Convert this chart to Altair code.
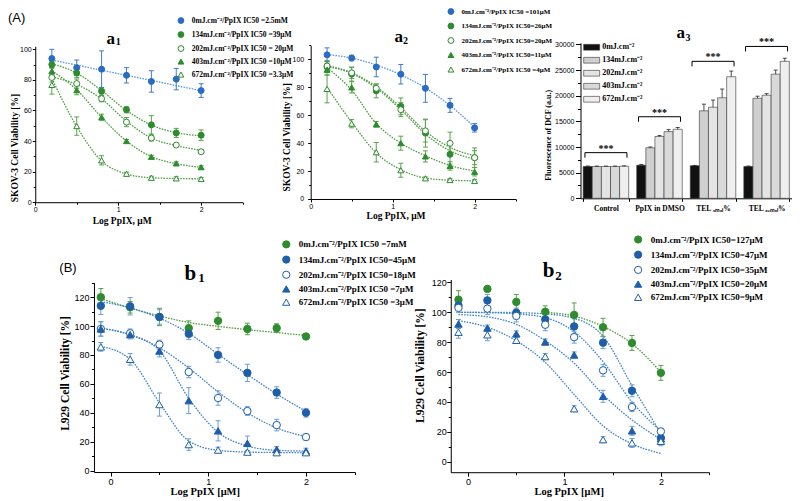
import altair as alt
import pandas as pd

SERIF = "Liberation Serif"
SANS = "Liberation Sans"

# ---------------- data ----------------
X_A = [0.2, 0.5, 0.8, 1.1, 1.4, 1.7, 2.0]
X_B = [-0.1, 0.2, 0.5, 0.8, 1.1, 1.4, 1.7, 2.0]

# panel a1 (SKOV-3, treatment 1)
A1_LABELS = ["0mJ.cm⁻²/PpIX IC50 =2.5mM", "134mJ.cm⁻²/PpIX IC50 =39μM",
             "202mJ.cm⁻²/PpIX IC50 = 20μM", "403mJ.cm⁻²/PpIX IC50 =10μM",
             "672mJ.cm⁻²/PpIX IC50 =3.3μM"]
A1_MEAN = [[94, 88, 87, 83, 79, 80.5, 73],
           [90, 84.5, 72.6, 60.5, 50.6, 45.3, 43.8],
           [81.6, 77.6, 67.7, 52.4, 42, 37.4, 33],
           [85.7, 73.3, 55.6, 40, 29.7, 25.4, 22.9],
           [76.7, 49.8, 27.4, 18.6, 16, 15.6, 15.2]]
A1_ERR = [[6, 5, 12, 5, 7, 7, 4.5],
          [2, 3, 2.5, 2, 6, 3, 3.5],
          [3, 3, 2, 3, 2, 1, 1],
          [2, 3, 2, 1, 1, 1, 1],
          [6, 6, 3, 1, 1, 1, 1]]
A1_FIT = [[93, 89.7, 86.3, 83, 79.7, 76.3, 73],
          [90.5, 84.5, 73, 60, 50.5, 45.5, 43.5],
          [82, 77, 67.5, 53, 42, 37, 34],
          [86, 73.5, 55.5, 40, 29.8, 25.2, 22.8],
          [81, 49.5, 27, 18.5, 16, 15.5, 15.3]]

# panel a2 (SKOV-3, treatment 2)
A2_LABELS = ["0mJ.cm⁻²/PpIX IC50 =101μM", "134mJ.cm⁻²/PpIX IC50=26μM",
             "202mJ.cm⁻²/PpIX IC50=20μM", "403mJ.cm⁻²/PpIX IC50=11μM",
             "672mJ.cm⁻²/PpIX IC50 =4μM"]
A2_MEAN = [[103.3, 101, 94.6, 89.4, 79.3, 67.1, 51],
           [94.6, 89.5, 77.5, 66.4, 47.2, 32, 29.6],
           [95.3, 90.4, 79.3, 64, 48.8, 39.9, 29.6],
           [92.7, 80, 53.5, 40, 30.5, 23.7, 19.5],
           [78.9, 54, 33.5, 20.6, 14.8, 13.6, 12.9]]
A2_ERR = [[5, 2, 7, 7, 10, 5, 3],
          [4, 5, 5, 6, 10, 7, 7],
          [4, 4, 3, 5, 8, 8, 5],
          [4, 4, 2, 5, 4, 3, 3],
          [10, 3, 7, 5, 1, 1, 1]]
A2_FIT = [[103.5, 101, 96, 89, 79.5, 67, 51.5],
          [95, 90, 79.5, 64, 46.5, 34.5, 28.5],
          [95.5, 90.5, 80.5, 65.5, 48.5, 37, 31],
          [94, 78, 54, 40, 31, 24, 20],
          [80, 55, 33, 21, 15, 13.5, 13]]

# panel a3 (DCF fluorescence)
A3_CATS = ["Control", "PpIX in DMSO", "TEL ₉ₘₒₗ%", "TEL ₆₂ₘₒₗ%"]
A3_DOSES = ["0mJ.cm⁻²", "134mJ.cm⁻²", "202mJ.cm⁻²", "403mJ.cm⁻²", "672mJ.cm⁻²"]
A3_MEAN = [[6200, 6450, 6350, 6200],
           [6200, 9850, 17050, 19500],
           [6200, 12050, 17750, 20100],
           [6200, 13000, 19600, 24200],
           [6250, 13450, 23700, 26700]]
A3_ERR = [[100, 150, 60, 100],
          [80, 150, 1300, 400],
          [80, 200, 1400, 300],
          [80, 400, 1700, 800],
          [80, 350, 1100, 600]]
A3_BRACKET = [8900, 15900, 26700, 29600]
A3_STARS = ["***", "***", "***", "***"]

# panel b1 (L929, treatment 1)
B1_LABELS = ["0mJ.cm⁻²/PpIX IC50    =7mM", "134mJ.cm⁻²/PpIX IC50=45μM",
             "202mJ.cm⁻²/PpIX IC50=18μM", "403mJ.cm⁻²/PpIX IC50  =7μM",
             "672mJ.cm⁻²/PpIX IC50  =3μM"]
B1_MEAN = [[120, 113, 106.3, 98.6, 103.6, 98, 98.6, 92.8],
           [114, 113.7, 106.3, 94.6, 80, 67.6, 54, 40],
           [98, 95, 87.2, 68.2, 50.2, 41.2, 31.5, 23.2],
           [98, 94.1, 82.7, 48.4, 27.5, 18.9, 14.6, 13.5],
           [85.6, 77, 45.7, 18, 14.2, 12.8, 12.4, 12.4]]
B1_ERR = [[6, 4, 6, 5, 6, 4, 3, 2],
          [6, 6, 5, 4, 5, 6, 4, 3],
          [5, 3, 3, 4, 5, 3, 4, 2],
          [5, 3, 4, 9, 7, 5, 2, 2],
          [3, 4, 8, 4, 2, 1, 1, 1]]
B1_FIT = [[119, 112.6, 107, 102.5, 99.8, 97.5, 95.5, 93.5],
          [117, 112.5, 105.5, 95, 80.5, 66.5, 53, 41],
          [98.5, 94, 85, 71, 54.5, 40, 29.5, 23.5],
          [98.5, 94, 83, 50, 26.5, 17, 14, 13.5],
          [86, 77, 47, 20.5, 14, 12.8, 12.5, 12.4]]

# panel b2 (L929, treatment 2)
B2_LABELS = ["0mJ.cm⁻²/PpIX IC50=127μM", "134mJ.cm⁻²/PpIX IC50=47μM",
             "202mJ.cm⁻²/PpIX IC50=35μM", "403mJ.cm⁻²/PpIX IC50=20μM",
             "672mJ.cm⁻²/PpIX IC50=9μM"]
B2_MEAN = [[108.5, 115.7, 107, 100.4, 98.3, 90, 79.5, 59.5],
           [104.6, 108, 99.8, 95.3, 90.6, 79.7, 47.5, 15.9],
           [103, 102.5, 97.6, 91.7, 83.4, 61.2, 36.6, 20.3],
           [92.2, 89.5, 85.6, 80.2, 71.5, 43.8, 20.7, 15.3],
           [86.7, 85, 81.3, 70.4, 35.5, 14.8, 12.6, 13.7]]
B2_ERR = [[6, 1, 5, 4, 8, 6, 5, 5],
          [3, 4, 3, 4, 5, 4, 4, 3],
          [3, 4, 4, 4, 4, 4, 3, 2],
          [3, 2, 2, 2, 2, 4, 3, 3],
          [4, 4, 2, 2, 2, 2, 3, 3]]
B2_FIT = [[None, None, None, 100, 97.5, 90.5, 79, 60],
          [100, 100, 99.8, 99, 96, 84, 51, 19],
          [100, 99.8, 99, 96.5, 87, 67, 40, 20.5],
          [98.5, 97, 92, 81, 66, 45, 28, 15],
          [94.5, 90, 81, 66.5, 45, 24, 12, 5.5]]

# ---------------- styles ----------------
BLUE_A, BLUE_A_LINE, BLUE_A_ERR = "#2a6bc4", "#5a98e0", "#3f7cc8"
GREEN, GREEN_LINE, GREEN_ERR = "#2e8b2e", "#4f9f40", "#5aa34c"
BLUE_B, BLUE_B_LINE, BLUE_B_ERR = "#1f5ea8", "#3f83cc", "#6a9fd4"
SHAPES = ["circle", "circle", "circle", "triangle-up", "triangle-up"]

STYLE_A = dict(stroke=[BLUE_A, GREEN, GREEN, GREEN, GREEN],
               fill=[BLUE_A, GREEN, "white", GREEN, "white"],
               line=[BLUE_A_LINE, GREEN_LINE, GREEN_LINE, GREEN_LINE, GREEN_LINE],
               err=[BLUE_A_ERR, GREEN_ERR, GREEN_ERR, GREEN_ERR, GREEN_ERR])
STYLE_B = dict(stroke=[GREEN, BLUE_B, BLUE_B, BLUE_B, BLUE_B],
               fill=[GREEN, BLUE_B, "white", BLUE_B, "white"],
               line=[GREEN_LINE, BLUE_B_LINE, BLUE_B_LINE, BLUE_B_LINE, BLUE_B_LINE],
               err=[GREEN_ERR, BLUE_B_ERR, BLUE_B_ERR, BLUE_B_ERR, BLUE_B_ERR])

# ---------------- layout (one canvas, reference pixels mapped in) ----------------
W, H = 784, 485


def fx(x):
    return round((x - 3) * 0.9837, 2)


def fy(y):
    return round((y - 2) * 0.9758, 2)


def series_frame(xs, labels, means, errs, fits, style):
    rows = []
    for i, lab in enumerate(labels):
        for j, x in enumerate(xs):
            m, e, f = means[i][j], errs[i][j], fits[i][j]
            rows.append(dict(x=x, y=m, lo=m - e, hi=m + e, f=f, s=lab,
                             ec=style["err"][i], lc=style["line"][i]))
    return pd.DataFrame(rows)


def qaxis(values, mod, title, orient, offset, lab_fs, title_fs, tmaj, tmin, lab_pad,
          title_pad, **extra):
    test = f"abs(datum.value % {mod}) < 1e-6"
    return alt.Axis(
        orient=orient, offset=offset, values=values,
        labelExpr=f"{test} ? format(datum.value, 'd') : ''",
        tickSize={"condition": {"test": test, "value": tmaj}, "value": tmin},
        title=title, titleFont=SERIF, titleFontWeight="bold", titleFontSize=title_fs,
        titleColor="black", labelFont=SANS, labelFontSize=lab_fs, labelColor="black",
        labelPadding=lab_pad, titlePadding=title_pad, domainColor="black",
        tickColor="black", domainWidth=1, tickWidth=1, grid=False,
        labelFlush=False, labelOverlap=False, **extra)


def text_layer(t, x, y, size, font=SERIF, weight="bold", align="center", baseline="alphabetic"):
    return alt.Chart(pd.DataFrame({"t": [t]})).mark_text(
        font=font, fontWeight=weight, fontSize=size, align=align,
        baseline=baseline, color="black").encode(
        x=alt.value(fx(x)), y=alt.value(fy(y)), text="t:N")


def curve_panel(df, labels, style, g):
    xs = alt.Scale(domain=g["xdom"], range=[fx(g["xpx"][0]), fx(g["xpx"][1])],
                   nice=False, zero=False)
    ys = alt.Scale(domain=g["ydom"], range=[fy(g["ypx"][0]), fy(g["ypx"][1])],
                   nice=False, zero=False)
    xax = qaxis(g["xticks"], 1, g["xtitle"], "bottom", fy(g["ypx"][0]) - H, g["lfs"], g["xtfs"],
                g["tmaj"], g["tmin"], g["xlpad"], 0,
                titleX=fx(g["xtc"]), titleY=g["xty"], titleBaseline="middle")
    yax = qaxis(g["yticks"], 20, g["ytitle"], "left", -fx(g["xpx"][0]), g["lfs"], g["ytfs"],
                g["tmaj"], g["tmin"], g["ylpad"], g["ytpad"], titleY=fy(g["ytc"]))

    def X(f):
        return alt.X(f, type="quantitative", scale=xs, axis=xax)

    def Y(f):
        return alt.Y(f, type="quantitative", scale=ys, axis=yax)

    leg = alt.Legend(orient="none", legendX=fx(g["lx"]), legendY=fy(g["ly"]), title=None,
                     direction="vertical", labelFont=SERIF, labelFontWeight="bold",
                     labelFontSize=g["legfs"], labelColor="black", labelLimit=400,
                     symbolSize=g["legss"], symbolStrokeWidth=1, symbolOpacity=1,
                     rowPadding=g["rowpad"], labelOffset=g["laboff"], padding=0)

    base = alt.Chart(df)
    lines = base.transform_filter("isValid(datum.f)").mark_line(
        strokeDash=[1.6, 1.2], strokeWidth=1.3, interpolate="monotone").encode(
        x=X("x"), y=Y("f"), detail="s:N", stroke=alt.Stroke("lc:N", scale=None))
    bars = base.mark_rule(strokeWidth=1).encode(
        x=X("x"), y=Y("lo"), y2="hi", stroke=alt.Stroke("ec:N", scale=None))
    cap_hi = base.mark_point(shape="stroke", size=g["cap"], strokeWidth=1, opacity=1).encode(
        x=X("x"), y=Y("hi"), stroke=alt.Stroke("ec:N", scale=None))
    cap_lo = base.mark_point(shape="stroke", size=g["cap"], strokeWidth=1, opacity=1).encode(
        x=X("x"), y=Y("lo"), stroke=alt.Stroke("ec:N", scale=None))
    pts = base.mark_point(size=g["size"], strokeWidth=1, opacity=1).encode(
        x=X("x"), y=Y("y"),
        color=alt.Color("s:N", scale=alt.Scale(domain=labels, range=style["stroke"]), legend=leg),
        fill=alt.Fill("s:N", scale=alt.Scale(domain=labels, range=style["fill"]), legend=leg),
        shape=alt.Shape("s:N", scale=alt.Scale(domain=labels, range=SHAPES), legend=leg))
    return alt.layer(lines, bars, cap_hi, cap_lo, pts)


ticks_a = [0, 0.5, 1, 1.5, 2, 2.5]
common_a = dict(xdom=[0, 2.5], xticks=ticks_a, lfs=7, xtfs=9.5, ytfs=9.5, tmaj=3, tmin=2,
                xlpad=0.5, legfs=7.5, legss=34, rowpad=3, laboff=7,
                cap=25, size=36, xtitle="Log PpIX, μM", ytitle="SKOV-3 Cell Viability [%]")
g_a1 = dict(common_a, xpx=[30.7, 241.5], ydom=[0, 102], ypx=[200, 40.2],
            yticks=list(range(0, 101, 10)), ylpad=1, ytpad=0.5, lx=175, ly=10,
            xtc=118.5, xty=17.9, ytc=144)
g_a2 = dict(common_a, xpx=[310.7, 519], ydom=[0, 110], ypx=[196.7, 39.4],
            yticks=list(range(0, 111, 10)), ylpad=4, ytpad=0.5, lx=449.7, ly=1,
            xtc=397, xty=16.4, ytc=133, legfs=7, rowpad=3.5)

ticks_b = [0, 0.5, 1, 1.5, 2, 2.5]
common_b = dict(xticks=ticks_b, lfs=9, xtfs=10.5, ytfs=11.5, tmaj=4, tmin=2.5, xlpad=1.5,
                legfs=9, legss=52, rowpad=2.2, laboff=8, cap=25, size=55,
                xtitle="Log PpIX [μM]", ytitle="L929 Cell Viability [%]", xty=19.5)
g_b1 = dict(common_b, xdom=[-0.17, 2.5], xpx=[90.4, 355.6], ydom=[-1, 130], ypx=[476.5, 282.5],
            yticks=list(range(0, 131, 10)), ylpad=1, ytpad=3, lx=281.3, ly=238.6,
            xtc=203, ytc=375)
g_b2 = dict(common_b, xdom=[-0.18, 2.5], xpx=[453.1, 715.7], ydom=[-7, 122], ypx=[476.7, 279.2],
            yticks=list(range(0, 121, 10)), ylpad=0.5, ytpad=6, lx=639, ly=233.6,
            xtc=573, ytc=367)

a1 = curve_panel(series_frame(X_A, A1_LABELS, A1_MEAN, A1_ERR, A1_FIT, STYLE_A), A1_LABELS, STYLE_A, g_a1)
a2 = curve_panel(series_frame(X_A, A2_LABELS, A2_MEAN, A2_ERR, A2_FIT, STYLE_A), A2_LABELS, STYLE_A, g_a2)
b1 = curve_panel(series_frame(X_B, B1_LABELS, B1_MEAN, B1_ERR, B1_FIT, STYLE_B), B1_LABELS, STYLE_B, g_b1)
b2 = curve_panel(series_frame(X_B, B2_LABELS, B2_MEAN, B2_ERR, B2_FIT, STYLE_B), B2_LABELS, STYLE_B, g_b2)

# ---------------- panel a3 (bars) ----------------
GREYS = ["#111111", "#cfcfcf", "#e4e4e4", "#d9d9d9", "#efefef"]
rows = []
for i, d in enumerate(A3_DOSES):
    for j, c in enumerate(A3_CATS):
        rows.append(dict(cat=c, d=d, v=A3_MEAN[i][j], top=A3_MEAN[i][j] + A3_ERR[i][j]))
bar_df = pd.DataFrame(rows)
br_df = pd.DataFrame(dict(cat=A3_CATS, by=A3_BRACKET, star=A3_STARS))

A3_X0, A3_X1, A3_Y0, A3_Y1 = 585, 800, 196, 36.7
xb = alt.Scale(domain=A3_CATS, range=[fx(A3_X0), fx(A3_X1)], paddingInner=0.15, paddingOuter=0.05)
yb = alt.Scale(domain=[0, 30300], range=[fy(A3_Y0), fy(A3_Y1)], nice=False, zero=False)
xb_axis = alt.Axis(orient="bottom", offset=fy(A3_Y0) - H, title=None, labelFont=SERIF,
                   labelFontWeight="bold", labelFontSize=7.5, labelColor="black", labelAngle=0,
                   labelPadding=3, tickSize=3, tickBand="extent", domainColor="black",
                   tickColor="black")
yb_axis = alt.Axis(orient="left", offset=-fx(A3_X0), values=list(range(0, 30001, 2500)),
                   labelExpr="datum.value % 5000 === 0 ? format(datum.value, 'd') : ''",
                   tickSize={"condition": {"test": "datum.value % 5000 === 0", "value": 5}, "value": 3},
                   title="Fluorescence of DCF (a.u.)", titleFont=SERIF, titleFontWeight="bold",
                   titleFontSize=8, titleColor="black", labelFont=SANS, labelFontSize=7,
                   labelColor="black", labelPadding=1.5, titlePadding=2.5, titleY=fy(131),
                   domainColor="black", tickColor="black", grid=False, labelOverlap=False)


def XB():
    return alt.X("cat:N", sort=A3_CATS, scale=xb, axis=xb_axis)


def YB(f):
    return alt.Y(f, type="quantitative", scale=yb, axis=yb_axis)


XOFF = alt.XOffset("d:N", sort=A3_DOSES, scale=alt.Scale(paddingInner=0, paddingOuter=0))
leg3 = alt.Legend(orient="none", legendX=fx(587.7), legendY=fy(40.7) - 8, title=None,
                  direction="vertical", labelFont=SERIF, labelFontWeight="bold", labelFontSize=8,
                  labelColor="black", symbolType="M-1,-0.36H1V0.36H-1Z", symbolSize=256,
                  symbolStrokeColor="#333333", symbolStrokeWidth=0.6, symbolOpacity=1,
                  rowPadding=-4.6, labelOffset=2, padding=0, labelLimit=200)

bars3 = alt.Chart(bar_df).mark_bar(stroke="#333333", strokeWidth=0.6).encode(
    x=XB(), xOffset=XOFF, y=YB("v"),
    fill=alt.Fill("d:N", scale=alt.Scale(domain=A3_DOSES, range=GREYS), legend=leg3))
err3 = alt.Chart(bar_df).mark_rule(color="#222222", strokeWidth=0.8).encode(
    x=XB(), xOffset=XOFF, y=YB("v"), y2="top")
cap3 = alt.Chart(bar_df).mark_point(shape="stroke", size=16, color="#222222",
                                    strokeWidth=0.8, opacity=1).encode(
    x=XB(), xOffset=XOFF, y=YB("top"))
brk3 = alt.Chart(br_df).mark_point(shape="M-1,0.24L-1,0L1,0L1,0.24", size=1764,
                                   filled=False, color="black", strokeWidth=1,
                                   opacity=1).encode(x=XB(), y=YB("by"))
star3 = alt.Chart(br_df).mark_text(font=SERIF, fontWeight="bold", fontSize=10, dy=-4,
                                   color="black", baseline="middle").encode(
    x=XB(), y=YB("by"), text="star:N")
a3 = alt.layer(bars3, err3, cap3, brk3, star3)

# ---------------- panel titles ----------------
labels_layer = [
    text_layer("(A)", 3, 11, 13, font=SANS, weight="normal", align="left", baseline="middle"),
    text_layer("a", 107.5, 37.5, 17), text_layer("1", 115, 38.5, 10),
    text_layer("a", 400.3, 36, 17), text_layer("2", 407, 38.3, 10),
    text_layer("a", 687, 31.7, 17), text_layer("3", 694.2, 35, 10),
    text_layer("(B)", 64, 267.5, 13, font=SANS, weight="normal", baseline="middle"),
    text_layer("b", 188.3, 280, 21), text_layer("1", 199.8, 281.7, 13),
    text_layer("b", 552.5, 276.7, 21), text_layer("2", 562.5, 279.3, 13),
]

chart = alt.layer(a1, a2, a3, b1, b2, *labels_layer).resolve_scale(
    x="independent", y="independent", color="independent", fill="independent",
    shape="independent").resolve_axis(x="independent", y="independent").properties(
    width=W, height=H, padding=0, background="white").configure_view(stroke=None)

chart.save("out.html", embed_options={"renderer": "svg", "actions": False})
